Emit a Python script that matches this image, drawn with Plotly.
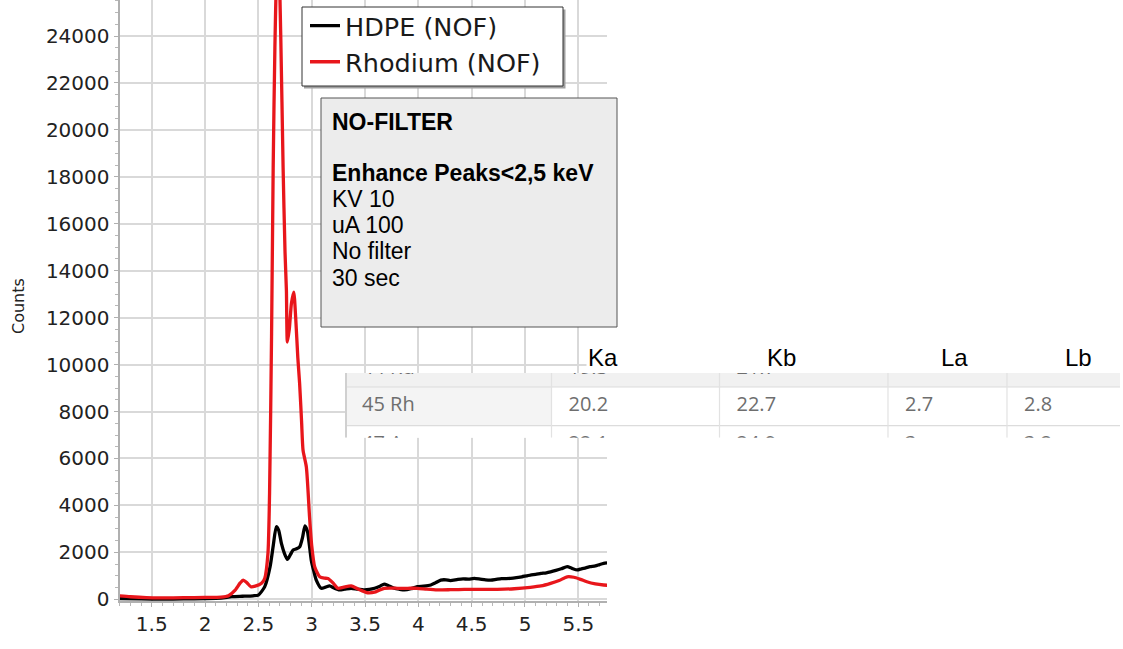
import plotly.graph_objects as go

# ---------------- data ----------------
hdpe_keV = [1.20, 1.40, 1.60, 1.80, 2.00, 2.15, 2.25, 2.35, 2.45, 2.50, 2.56, 2.61, 2.64, 2.668,
            2.69, 2.716, 2.745, 2.772, 2.80, 2.826, 2.858, 2.888, 2.915, 2.937, 2.96, 2.996, 3.02,
            3.043, 3.09, 3.13, 3.168, 3.21, 3.26, 3.31, 3.37, 3.43, 3.495, 3.54, 3.59, 3.64, 3.68,
            3.72, 3.775, 3.82, 3.87, 3.93, 3.99, 4.05, 4.117, 4.16, 4.21, 4.26, 4.30, 4.37, 4.42,
            4.47, 4.525, 4.58, 4.63, 4.68, 4.73, 4.78, 4.865, 4.92, 4.97, 5.05, 5.10, 5.15, 5.20,
            5.24, 5.29, 5.34, 5.396, 5.44, 5.49, 5.53, 5.57, 5.61, 5.66, 5.70, 5.738, 5.77]
hdpe_counts = [30, 20, 10, 20, 30, 50, 110, 130, 150, 180, 540, 1390, 2300, 3090,
               2950, 2380, 1950, 1700, 1900, 2100, 2150, 2240, 2650, 3130, 2900, 1670, 1200,
               820, 470, 520, 570, 480, 400, 430, 470, 430, 400, 420, 470, 560, 650,
               580, 470, 430, 400, 450, 540, 560, 610, 700, 820, 830, 800, 850, 870,
               860, 890, 860, 830, 820, 850, 880, 890, 920, 960, 1030, 1060, 1100, 1130,
               1170, 1230, 1300, 1390, 1320, 1250, 1300, 1340, 1390, 1420, 1480, 1530, 1550]

rhodium_keV = [1.20, 1.30, 1.45, 1.60, 1.80, 2.00, 2.15, 2.22, 2.28, 2.33, 2.358, 2.39, 2.43, 2.47,
               2.53, 2.56, 2.59, 2.605, 2.624, 2.639, 2.655, 2.672, 2.69, 2.71, 2.732, 2.75, 2.763,
               2.772, 2.79, 2.81, 2.832, 2.85, 2.87, 2.887, 2.905, 2.919, 2.95, 2.98, 3.00, 3.028,
               3.075, 3.12, 3.153, 3.20, 3.246, 3.30, 3.37, 3.43, 3.526, 3.60, 3.68, 3.75, 3.807,
               3.90, 3.99, 4.08, 4.18, 4.30, 4.43, 4.58, 4.74, 4.90, 5.05, 5.15, 5.24, 5.32, 5.396,
               5.458, 5.52, 5.58, 5.66, 5.738, 5.77]
rhodium_counts = [150, 110, 70, 60, 70, 80, 90, 150, 380, 700, 820, 720, 536, 560,
                  680, 900, 1960, 4500, 11330, 18400, 23500, 26600, 27200, 24000, 18400, 14800, 13160,
                  10960, 11500, 12600, 13090, 12000, 10300, 9190, 7600, 6350, 5640, 3510, 2300, 1390,
                  960, 900, 890, 700, 470, 520, 570, 450, 280, 320, 470, 480, 470,
                  470, 470, 430, 400, 410, 425, 420, 425, 450, 510, 570, 680, 800, 960,
                  940, 850, 750, 660, 610, 600]

series_names = ["HDPE (NOF)", "Rhodium (NOF)"]
series_colors = ["#000000", "#e8161b"]

x_tick_vals = [1.5, 2, 2.5, 3, 3.5, 4, 4.5, 5, 5.5]
y_tick_vals = list(range(0, 26000, 2000))

info_lines = ["<b>NO-FILTER</b>", "", "<b>Enhance Peaks&lt;2,5 keV</b>", "KV 10", "uA 100",
              "No filter", "30 sec"]

table_headers = ["Ka", "Kb", "La", "Lb"]
table_rows = [
    ["44 Ru", "19.3", "21.7", "", ""],
    ["45 Rh", "20.2", "22.7", "2.7", "2.8"],
    ["47 Ag", "22.1", "24.9", "3", "3.2"],
]

# ---------------- layout helpers (pixel based) ----------------
W, H = 1123, 649
H_EFF = 639.0   # vertical pixel scale observed in the rendered picture


def px(p):
    return p / W


def py(p):
    return 1 - p / H_EFF


fig = go.Figure()

for name, xs, ys, col in [(series_names[0], hdpe_keV, hdpe_counts, series_colors[0]),
                          (series_names[1], rhodium_keV, rhodium_counts, series_colors[1])]:
    fig.add_trace(go.Scatter(x=xs, y=ys, mode="lines", name=name,
                             line=dict(color=col, width=3.3, shape="spline", smoothing=0.6),
                             xaxis="x", yaxis="y"))

# ---------------- table (clipped sub-plot) ----------------
tab_l, tab_r, tab_t, tab_b = 345, 1120, 373, 437.7
col_edges = [345, 551.5, 719.5, 888, 1007, 1120]
row_centers = [368.5, 406, 445]
row_lines = [387, 425.7]
text_pad = 17

for ri, row in enumerate(table_rows):
    xs_t = [col_edges[ci] + text_pad for ci in range(len(row))]
    ys_t = [row_centers[ri]] * len(row)
    fig.add_trace(go.Scatter(x=xs_t, y=ys_t, mode="text", text=row,
                             textposition="middle right",
                             textfont=dict(family="Open Sans", size=20, color="#6e6e6e"),
                             showlegend=False, hoverinfo="skip", cliponaxis=True,
                             xaxis="x2", yaxis="y2"))

shapes = []
# table backgrounds
shapes.append(dict(type="rect", xref="x2", yref="y2", x0=tab_l, x1=tab_r, y0=tab_t, y1=tab_b,
                   fillcolor="#ffffff", line=dict(width=0), layer="below"))
shapes.append(dict(type="rect", xref="x2", yref="y2", x0=tab_l, x1=tab_r, y0=tab_t, y1=row_lines[0],
                   fillcolor="#f1f1f1", line=dict(width=0), layer="below"))
shapes.append(dict(type="rect", xref="x2", yref="y2", x0=tab_l, x1=col_edges[1], y0=row_lines[0],
                   y1=row_lines[1], fillcolor="#f4f4f4", line=dict(width=0), layer="below"))
for yl in row_lines:
    shapes.append(dict(type="line", xref="x2", yref="y2", x0=tab_l, x1=tab_r, y0=yl, y1=yl,
                       line=dict(color="#dcdcdc", width=1.2), layer="below"))
for xl in col_edges[1:-1]:
    shapes.append(dict(type="line", xref="x2", yref="y2", x0=xl, x1=xl, y0=tab_t, y1=tab_b,
                       line=dict(color="#e2e2e2", width=1.2), layer="below"))
shapes.append(dict(type="line", xref="x2", yref="y2", x0=tab_l + 1, x1=tab_l + 1, y0=tab_t, y1=tab_b,
                   line=dict(color="#d0d0d0", width=2), layer="below"))

# info box
shapes.append(dict(type="rect", xref="paper", yref="paper", x0=px(321), x1=px(617), y0=py(98), y1=py(327),
                   fillcolor="#ececec", line=dict(color="#555555", width=1), layer="above"))
# legend frame with shadow
shapes.append(dict(type="rect", xref="paper", yref="paper", x0=px(304), x1=px(565.5), y0=py(9.5), y1=py(88.5),
                   fillcolor="#a0a0a0", line=dict(width=0), layer="above"))
shapes.append(dict(type="rect", xref="paper", yref="paper", x0=px(302), x1=px(563), y0=py(7), y1=py(86),
                   fillcolor="#ffffff", line=dict(color="#333333", width=1), layer="above"))

annotations = []
line_y = [122, 148, 173, 199, 225, 251, 278]
for txt, yy in zip(info_lines, line_y):
    if txt:
        annotations.append(dict(text=txt, xref="paper", yref="paper", x=px(330), y=py(yy),
                                xanchor="left", yanchor="middle", showarrow=False,
                                font=dict(family="Liberation Sans", size=23, color="#000000")))

header_x = [603, 781, 954, 1078]
for hx, ht in zip(header_x, table_headers):
    annotations.append(dict(text=ht, xref="paper", yref="paper", x=px(hx), y=py(357),
                            xanchor="center", yanchor="middle", showarrow=False,
                            bgcolor="#ffffff", borderpad=1,
                            font=dict(family="Liberation Sans", size=24, color="#000000")))

annotations.append(dict(text="Counts", xref="paper", yref="paper", x=px(18), y=py(306),
                        xanchor="center", yanchor="middle", textangle=-90, showarrow=False,
                        font=dict(family="DejaVu Sans", size=16, color="#222222")))

fig.update_layout(
    width=W, height=H,
    margin=dict(l=0, r=0, t=0, b=0),
    paper_bgcolor="#ffffff", plot_bgcolor="#ffffff",
    showlegend=True,
    legend=dict(x=px(305), y=py(2.5), xanchor="left", yanchor="top",
                bgcolor="rgba(0,0,0,0)", borderwidth=0,
                font=dict(family="DejaVu Sans", size=25.5, color="#1a1a1a"),
                tracegroupgap=0),
    xaxis=dict(domain=[px(119.5), px(607)], range=[1.198, 5.769], tickvals=x_tick_vals,
               ticktext=[f"{v:g}" for v in x_tick_vals],
               showgrid=True, gridcolor="#d9d9d9", gridwidth=1.5, zeroline=False,
               showline=True, linecolor="#b0b0b0", linewidth=2, ticks="outside", ticklen=4,
               tickcolor="#b0b0b0",
               minor=dict(dtick=0.1, tick0=1.2, ticks="outside", ticklen=3, tickcolor="#b8b8b8", showgrid=False),
               tickfont=dict(family="DejaVu Sans", size=20, color="#222222"), anchor="y"),
    yaxis=dict(domain=[py(601), 1], range=[-72, 25534], tickvals=y_tick_vals,
               ticktext=[str(v) for v in y_tick_vals],
               showgrid=True, gridcolor="#d9d9d9", gridwidth=1.5, zeroline=False,
               showline=True, linecolor="#b0b0b0", linewidth=2, ticks="outside", ticklen=4,
               tickcolor="#b0b0b0",
               minor=dict(dtick=500, tick0=0, ticks="outside", ticklen=3, tickcolor="#b8b8b8", showgrid=False),
               tickfont=dict(family="DejaVu Sans", size=20, color="#222222"), anchor="x"),
    xaxis2=dict(domain=[px(tab_l), px(tab_r)], range=[tab_l, tab_r], visible=False,
                showgrid=False, zeroline=False, anchor="y2", fixedrange=True),
    yaxis2=dict(domain=[py(tab_b), py(tab_t)], range=[tab_b, tab_t], visible=False,
                showgrid=False, zeroline=False, anchor="x2", fixedrange=True),
    shapes=shapes,
    annotations=annotations,
)

fig.write_html("out.html", config={"displayModeBar": False},
               post_script="document.body.style.margin='0px';")
